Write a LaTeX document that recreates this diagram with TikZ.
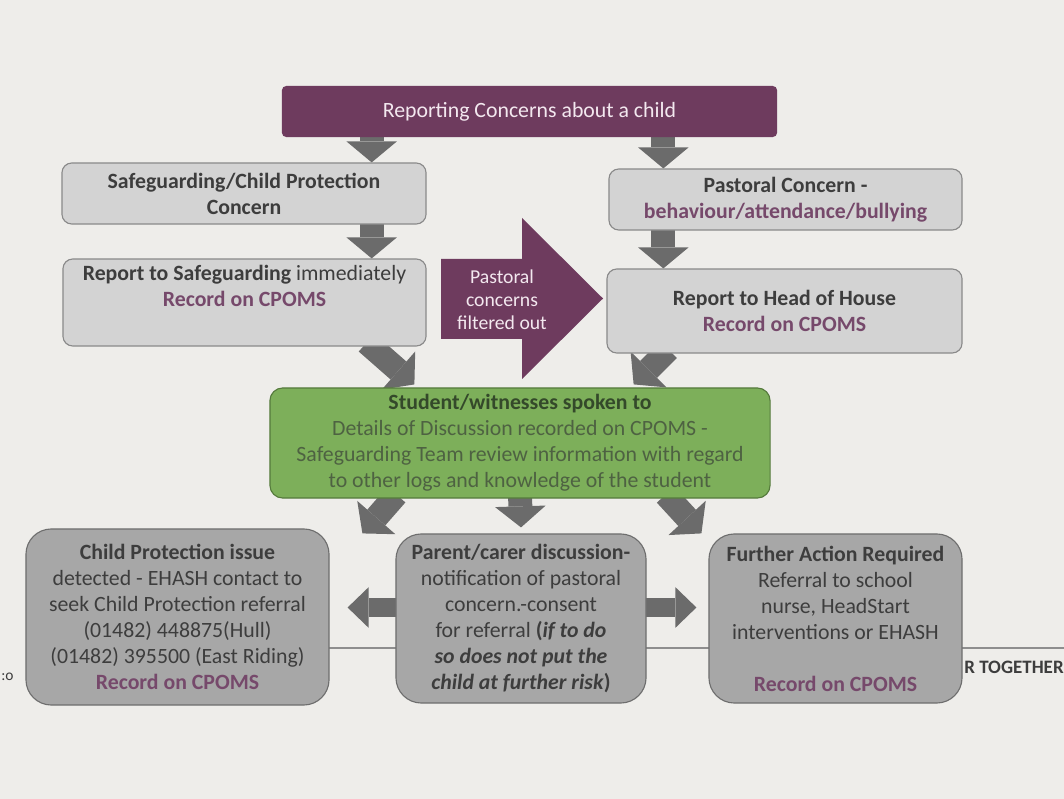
\documentclass[tikz,border=0pt]{standalone}
\usepackage{fontspec}
\setmainfont{Carlito}
\usetikzlibrary{arrows.meta,calc,backgrounds}

\definecolor{paper}{HTML}{EEEDEA}
\definecolor{plum}{HTML}{6E3B5E}
\definecolor{plumtext}{HTML}{F3E8EF}
\definecolor{lightfill}{HTML}{D3D3D3}
\definecolor{lightedge}{HTML}{8A8A8A}
\definecolor{outfill}{HTML}{A7A7A7}
\definecolor{outedge}{HTML}{6E6E6E}
\definecolor{greenfill}{HTML}{7DAF5A}
\definecolor{greenedge}{HTML}{557A3C}
\definecolor{greenhead}{HTML}{34492A}
\definecolor{greentext}{HTML}{4E6242}
\definecolor{darktext}{HTML}{3D3D3D}
\definecolor{recordplum}{HTML}{76496B}
\definecolor{arrowgray}{HTML}{6B6B6B}
\definecolor{pagerule}{HTML}{8E8E8E}

\newcommand{\recordcpoms}{\textcolor{recordplum}{\textbf{Record on CPOMS}}}

\begin{document}
\begin{tikzpicture}[x=0.025cm, y=-0.025cm,
    every node/.style={font=\fontsize{15.5}{18.5}\selectfont, align=center, inner sep=0pt},
    headbox/.style={fill=plum, rounded corners=3pt, text=plumtext},
    lightbox/.style={draw=lightedge, fill=lightfill, line width=0.8pt, rounded corners=7pt, text=darktext},
    greenbox/.style={draw=greenedge, fill=greenfill, line width=0.8pt, rounded corners=9pt, text=greentext},
    outbox/.style={draw=outedge, fill=outfill, line width=0.8pt, rounded corners=18pt, text=darktext},
    flow/.style={draw=arrowgray, line width=17pt, -{Triangle[length=15pt, width=36pt, line width=0pt]}},
    sideflow/.style={draw=arrowgray, line width=14pt, -{Triangle[length=15pt, width=29pt, line width=0pt]}}]
    \useasboundingbox (0,0) rectangle (1064,799);
    \clip (0,0) rectangle (1064,799);

    % Haut
    \node[headbox, minimum width=12.375cm, minimum height=1.275cm] (top) at (529.5,111.5) {Reporting Concerns about a child};

    \node[lightbox, minimum width=9.1cm, minimum height=1.525cm] (sg) at (244,193.5) {\textbf{Safeguarding/Child Protection}\\\textbf{Concern}};
    \node[lightbox, minimum width=8.825cm, minimum height=1.525cm] (pc) at (785.5,199.5) {\textbf{Pastoral Concern -}\\\textcolor{recordplum}{\textbf{behaviour/attendance/bullying}}};

    \node[lightbox, minimum width=9.075cm, minimum height=2.175cm] (rs) at (244.5,302.5) {\textbf{Report to Safeguarding} immediately\\\recordcpoms\\\strut};
    \node[lightbox, minimum width=8.875cm, minimum height=2.1cm] (rh) at (784.5,311) {\textbf{Report to Head of House}\\\recordcpoms};

    % Filtre
    \fill[plum] (441,259) -- (522,259) -- (522,218) -- (603,298.5) -- (522,379) -- (522,339) -- (441,339) -- cycle;
    \node[text=plumtext, font=\fontsize{14}{16.5}\selectfont] (filter) at (502,300) {Pastoral\\concerns\\filtered out};

    % Centre
    \node[greenbox, minimum width=12.5cm, minimum height=2.75cm] (green) at (520,443) {\textcolor{greenhead}{\textbf{Student/witnesses spoken to}}\\Details of Discussion recorded on CPOMS -\\Safeguarding Team review information with regard\\to other logs and knowledge of the student};

    % Bas
    \node[outbox, minimum width=7.575cm, minimum height=4.4cm] (bl) at (177.5,617) {\textbf{Child Protection issue}\\detected - EHASH contact to\\seek Child Protection referral\\(01482) 448875(Hull)\\(01482) 395500 (East Riding)\\\recordcpoms};
    \node[outbox, minimum width=6.25cm, minimum height=4.225cm] (mid) at (521,618.5) {\textbf{Parent/carer discussion-}\\notification of pastoral\\concern.-consent\\for referral \textbf{(\textit{if to do}}\\\textbf{\textit{so does not put the}}\\\textbf{\textit{child at further risk})}};
    \node[outbox, minimum width=6.325cm, minimum height=4.225cm] (br) at (835.5,618.5) {\textbf{Further Action Required}\\Referral to school\\nurse, HeadStart\\interventions or EHASH\\\strut\\\recordcpoms};

    \node[anchor=west, text=darktext, font=\fontsize{13.5}{16}\selectfont\bfseries] (together) at (964,667) {R TOGETHER};
    \node[anchor=west, text=darktext, font=\fontsize{11}{13}\selectfont] (edge) at (1,677) {:o};

    % Fleches
    \begin{scope}[on background layer]
        \fill[paper] (0,0) rectangle (1064,799);
        \draw[pagerule, line width=0.8pt] (26,648) -- (1064,648);

        \coordinate (sgx) at ($(top.south west)+(90,-4)$);
        \coordinate (pcx) at ($(top.south east)+(-114,-4)$);
        \draw[flow] (sgx) -- (sgx |- sg.north);
        \draw[flow] (pcx) -- (pcx |- pc.north);
        \draw[flow] ($(sgx |- sg.south)+(0,-4)$) -- (sgx |- rs.north);
        \draw[flow] ($(pcx |- pc.south)+(0,-4)$) -- (pcx |- rh.north);

        \draw[flow] ($(rs.south east)+(-60,-4)$) -- ($(green.north west)+(145,-3)$);
        \draw[flow] ($(rh.south west)+(62,-4)$) -- ($(green.north east)+(-137,-3)$);

        \draw[flow] ($(green.south west)+(127,-4)$) -- ($(mid.north west)+(-33,0)$);
        \draw[flow] ($(green.south)+(0,-4)$) -- ($(mid.north)+(0,-6)$);
        \draw[flow] ($(green.south east)+(-105,-4)$) -- ($(br.north west)+(-7,0)$);

        \coordinate (lr) at ($(mid.west)+(4,-11)$);
        \coordinate (rr) at ($(mid.east)+(-4,-11)$);
        \draw[sideflow] (lr) -- ($(bl.east |- lr)+(18,0)$);
        \draw[sideflow] (rr) -- ($(br.west |- rr)+(-12,0)$);
    \end{scope}
\end{tikzpicture}
\end{document}
